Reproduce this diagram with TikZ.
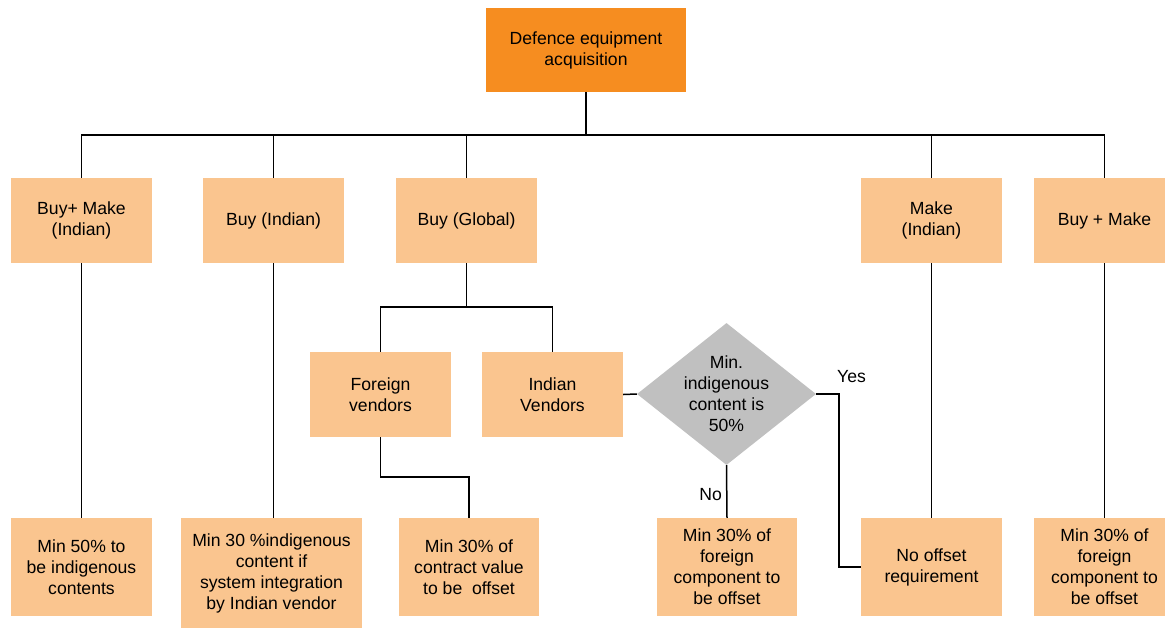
\documentclass[tikz,border=0pt]{standalone}
\usepackage{fontspec}
\setmainfont{Liberation Sans}
\usetikzlibrary{shapes.geometric}
\definecolor{acqorange}{RGB}{246,141,32}
\definecolor{lightorange}{RGB}{250,197,143}
\definecolor{decgray}{RGB}{192,192,192}
\begin{document}
\begin{tikzpicture}[x=1pt,y=-1pt,
    every node/.style={font=\fontsize{17.6}{21}\selectfont, align=center, inner sep=0pt},
    rootbox/.style={fill=acqorange, minimum width=200pt, minimum height=84pt},
    optbox/.style={fill=lightorange, minimum width=141pt, minimum height=85pt},
    rulebox/.style={fill=lightorange, minimum width=141pt, minimum height=98pt},
    decision/.style={diamond, fill=decgray, minimum width=179pt, minimum height=142pt, inner sep=-20pt}]
      \useasboundingbox (0,0) rectangle (1165,629);
      \draw
        (586,50) node[rootbox] (acq){Defence equipment\\acquisition}
        (81.5,220.5) node[optbox] (bmi){Buy+ Make\\(Indian)}
        (273.5,220.5) node[optbox] (bi){Buy (Indian)}
        (466.5,220.5) node[optbox] (bg){Buy (Global)}
        (931.5,220.5) node[optbox] (mi){Make\\(Indian)}
        (1104.5,220.5) node[optbox] (bm){Buy + Make}
        (380.5,394.5) node[optbox] (fv){Foreign\\vendors}
        (552.5,394.5) node[optbox] (iv){Indian\\Vendors}
        (726.5,394) node[decision] (dec){Min.\\indigenous\\content is\\50\%}
        (81.5,567) node[rulebox] (r1){Min 50\% to\\be indigenous\\contents}
        (271.5,573) node[rulebox, minimum width=181pt, minimum height=110pt] (r2){Min 30 \%indigenous\\content if\\system integration\\by Indian vendor}
        (469,567) node[rulebox, minimum width=140pt] (r3){Min 30\% of\\contract value\\to be~ offset}
        (727,567) node[rulebox, minimum width=140pt] (r4){Min 30\% of\\foreign\\component to\\be offset}
        (931.5,567) node[rulebox] (r5){No offset\\requirement}
        (1104.5,567) node[rulebox] (r6){Min 30\% of\\foreign\\component to\\be offset}
        (837,377) node[anchor=west] (yes){Yes}
        (722,495) node[anchor=east] (no){No};
      \begin{scope}[line width=1.5pt]
        \draw (acq.south) -- ++(0,43) -| (bmi.north);
        \draw (acq.south) -- ++(0,43) -| (bi.north);
        \draw (acq.south) -- ++(0,43) -| (bg.north);
        \draw (acq.south) -- ++(0,43) -| (mi.north);
        \draw (acq.south) -- ++(0,43) -| (bm.north);
        \draw (bmi) to (r1);
        \draw (bi.south) -- (bi.south |- r2.north);
        \draw (bg.south) -- ++(0,44) -| (fv.north);
        \draw (bg.south) -- ++(0,44) -| (iv.north);
        \draw (fv.south) -- ++(0,40) -| (r3.north);
        \draw (iv.east) -- (dec.west);
        \draw (dec.south) -- (r4.north);
        \draw (dec.east) -- ++(23,0) |- (r5.west);
        \draw (mi) to (r5);
        \draw (bm) to (r6);
      \end{scope}
    \end{tikzpicture}
\end{document}
